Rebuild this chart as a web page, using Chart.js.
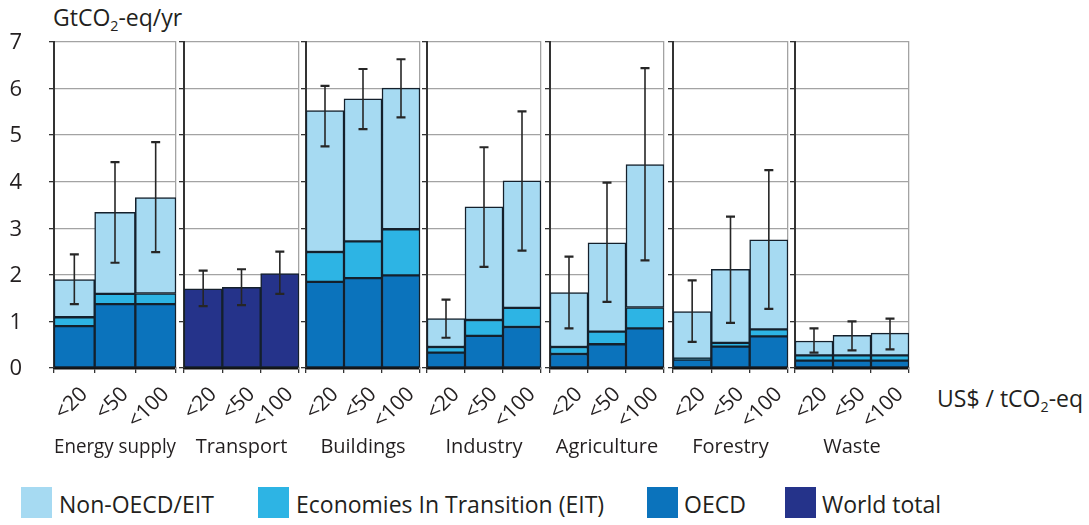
<!DOCTYPE html>
<html>
<head>
<meta charset="utf-8">
<script src="https://cdn.jsdelivr.net/npm/chart.js@4.4.1/dist/chart.umd.min.js"></script>
<style>
  html, body { margin: 0; padding: 0; background: #fff; }
  body { width: 1089px; height: 525px; position: relative; overflow: hidden;
         font-family: 'Open Sans', sans-serif; color: #231f20; }
  canvas { position: absolute; }
  .txt { position: absolute; white-space: nowrap; line-height: 1; }
  .txt sub { font-size: 0.62em; vertical-align: -0.35em; line-height: 0; }
  .sw { position: absolute; width: 31px; height: 31px; }
</style>
</head>
<body>
<div class="txt" style="left:53px; top:6px; font-size:23px;">GtCO<sub>2</sub>-eq/yr</div>
<div class="txt" style="left:937px; top:387px; font-size:23px;">US$ / tCO<sub>2</sub>-eq</div>
<div id="legend"></div>
<script>
// Mitigation potential by sector at three carbon-price levels (GtCO2-eq/yr)
const sectors = ['Energy supply', 'Transport', 'Buildings', 'Industry', 'Agriculture', 'Forestry', 'Waste'];
const priceLevels = ['<20', '<50', '<100'];

// stacked segments, one triple per sector (null where a sector has no regional split)
const oecd    = [[0.90, 1.37, 1.37], null, [1.85, 1.93, 1.99], [0.33, 0.69, 0.88], [0.30, 0.51, 0.85], [0.18, 0.46, 0.68], [0.16, 0.16, 0.16]];
const eit     = [[0.19, 0.22, 0.23], null, [0.64, 0.79, 0.99], [0.12, 0.34, 0.41], [0.15, 0.27, 0.45], [0.02, 0.08, 0.15], [0.11, 0.11, 0.11]];
const nonOecd = [[0.81, 1.75, 2.06], null, [3.04, 3.06, 3.03], [0.61, 2.43, 2.73], [1.17, 1.91, 3.07], [1.01, 1.58, 1.92], [0.31, 0.43, 0.48]];
const worldTotal = [null, [1.70, 1.73, 2.03], null, null, null, null, null];

// uncertainty ranges of the sector totals
const errLow  = [[1.37, 2.26, 2.49], [1.33, 1.35, 1.59], [4.76, 5.13, 5.38], [0.65, 2.17, 2.52], [0.85, 1.42, 2.31], [0.56, 0.97, 1.27], [0.33, 0.38, 0.40]];
const errHigh = [[2.44, 4.42, 4.85], [2.09, 2.12, 2.50], [6.06, 6.42, 6.63], [1.47, 4.74, 5.51], [2.39, 3.98, 6.44], [1.88, 3.25, 4.25], [0.85, 1.00, 1.06]];

const yTicks = [0, 1, 2, 3, 4, 5, 6, 7];

const seriesNames = ['Non-OECD/EIT', 'Economies In Transition (EIT)', 'OECD', 'World total'];
const seriesColors = ['#a6daf2', '#2db4e4', '#0b73bc', '#25338a'];

// panel frames (plot-area edges in page pixels)
const panelEdges = [[54, 176], [184, 299], [306, 420], [427, 541], [550, 664], [673, 788], [795, 909]];
const plotTop = 42, plotBottom = 368;
const AXIS_W = 50, PAD_TOP = 20, PAD_RIGHT = 30, XAXIS_H = 91;

const FONT = "'Open Sans', sans-serif";
const INK = '#231f20';
const GRID = '#a3a3a3';
const OUTLINE = '#14202c';

// vertical error bars with end caps
const errorBars = {
  id: 'errorBars',
  afterDatasetsDraw(chart, args, opts) {
    const { ctx, scales: { x, y } } = chart;
    ctx.save();
    ctx.strokeStyle = '#262626';
    opts.low.forEach((lo, i) => {
      const cx = x.getPixelForValue(i);
      const yl = y.getPixelForValue(lo);
      const yh = y.getPixelForValue(opts.high[i]);
      ctx.lineWidth = 1.6;
      ctx.beginPath(); ctx.moveTo(cx, yl); ctx.lineTo(cx, yh); ctx.stroke();
      ctx.lineWidth = 2.2;
      ctx.beginPath();
      ctx.moveTo(cx - 4.5, yl); ctx.lineTo(cx + 4.5, yl);
      ctx.moveTo(cx - 4.5, yh); ctx.lineTo(cx + 4.5, yh);
      ctx.stroke();
    });
    ctx.restore();
  }
};

// value labels of the shared y axis, placed well clear of the first panel
const yAxisLabels = {
  id: 'yAxisLabels',
  afterDraw(chart, args, opts) {
    if (!opts.show) return;
    const { ctx, scales: { y } } = chart;
    ctx.save();
    ctx.fillStyle = INK;
    ctx.font = '22px ' + FONT;
    ctx.textAlign = 'right';
    ctx.textBaseline = 'middle';
    y.ticks.forEach(t => {
      ctx.fillText(String(t.value), y.right - opts.gap, y.getPixelForValue(t.value) + 1);
    });
    ctx.restore();
  }
};

function barSet(label, data, color) {
  return { label, data, backgroundColor: color, borderColor: OUTLINE, borderWidth: 1.5,
           borderSkipped: false, categoryPercentage: 1, barPercentage: 1, stack: 'total' };
}

sectors.forEach((name, i) => {
  const [l, r] = panelEdges[i];
  const w = AXIS_W + (r - l) + PAD_RIGHT;
  const h = PAD_TOP + (plotBottom - plotTop) + XAXIS_H;
  const cv = document.createElement('canvas');
  cv.width = w; cv.height = h;
  cv.style.left = (l - AXIS_W) + 'px';
  cv.style.top = (plotTop - PAD_TOP) + 'px';
  document.body.appendChild(cv);

  const datasets = worldTotal[i]
    ? [barSet(seriesNames[3], worldTotal[i], seriesColors[3])]
    : [barSet(seriesNames[2], oecd[i], seriesColors[2]),
       barSet(seriesNames[1], eit[i], seriesColors[1]),
       barSet(seriesNames[0], nonOecd[i], seriesColors[0])];

  new Chart(cv, {
    type: 'bar',
    data: { labels: priceLevels, datasets },
    plugins: [errorBars, yAxisLabels],
    options: {
      responsive: false, animation: false, devicePixelRatio: 1,
      layout: { padding: { left: 0, top: PAD_TOP, right: PAD_RIGHT, bottom: 0 } },
      plugins: {
        legend: { display: false },
        tooltip: { enabled: false },
        errorBars: { low: errLow[i], high: errHigh[i] },
        yAxisLabels: { show: i === 0, gap: 32 }
      },
      scales: {
        x: {
          stacked: true, offset: true,
          afterFit: s => { s.height = XAXIS_H; },
          grid: { display: true, drawOnChartArea: false, drawTicks: true, tickLength: 5,
                  color: '#333', lineWidth: 1.3, offset: true },
          border: { display: true, color: '#111', width: 2.5 },
          ticks: { autoSkip: false, minRotation: 45, maxRotation: 45, padding: 9, labelOffset: 10,
                   color: INK, font: { family: FONT, size: 21 } },
          title: { display: true, text: name, color: INK, padding: 0, font: { family: FONT, size: 20 } }
        },
        y: {
          stacked: true, min: 0, max: 7,
          afterFit: s => { s.width = AXIS_W; },
          afterBuildTicks: s => { s.ticks = yTicks.map(v => ({ value: v })); },
          grid: { color: GRID, lineWidth: 1.3, drawTicks: true, tickLength: 5, tickColor: '#333' },
          border: { display: true, color: '#333', width: 2 },
          ticks: { display: false }
        },
        yRight: {
          position: 'right', min: 0, max: 7,
          afterFit: s => { s.width = 0; },
          grid: { display: true, drawOnChartArea: false, drawTicks: false },
          border: { display: true, color: GRID, width: 1.3 },
          ticks: { display: false }
        }
      }
    }
  });
});

// legend
const legendPos = [[21, 59], [258, 296], [647, 684], [785, 822]];
const legend = document.getElementById('legend');
seriesNames.forEach((n, k) => {
  const sw = document.createElement('div');
  sw.className = 'sw';
  sw.style.left = legendPos[k][0] + 'px';
  sw.style.top = '487px';
  sw.style.background = seriesColors[k];
  legend.appendChild(sw);
  const t = document.createElement('div');
  t.className = 'txt';
  t.style.left = legendPos[k][1] + 'px';
  t.style.top = '493px';
  t.style.fontSize = '23px';
  t.textContent = n;
  legend.appendChild(t);
});
</script>
</body>
</html>
